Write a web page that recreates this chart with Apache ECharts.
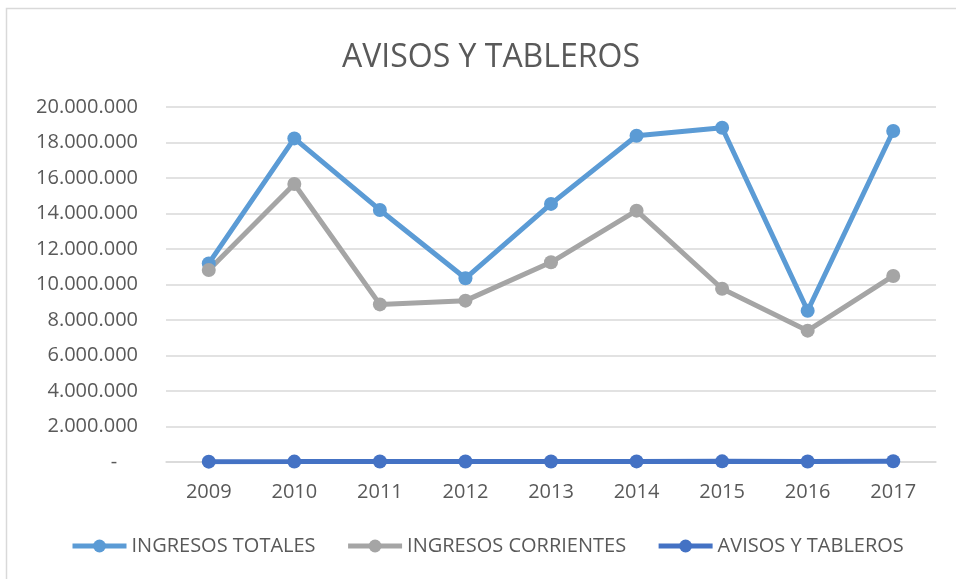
<!DOCTYPE html>
<html>
<head>
<meta charset="utf-8">
<script src="https://cdn.jsdelivr.net/npm/echarts@6/dist/echarts.min.js"></script>
<style>
  html, body { margin: 0; padding: 0; background: #fff; }
  #main { width: 956px; height: 579px; }
</style>
</head>
<body>
<div id="main"></div>
<script>
// datos
var years = ['2009', '2010', '2011', '2012', '2013', '2014', '2015', '2016', '2017'];
var ingresosTotales = [11190000, 18230000, 14200000, 10350000, 14540000, 18380000, 18830000, 8520000, 18650000];
var ingresosCorrientes = [10820000, 15660000, 8880000, 9090000, 11250000, 14160000, 9760000, 7400000, 10480000];
var avisosTableros = [20000, 22000, 25000, 24000, 30000, 35000, 38000, 30000, 40000];
var yTicks = [0, 2000000, 4000000, 6000000, 8000000, 10000000, 12000000, 14000000, 16000000, 18000000, 20000000];

var textColor = '#595959';
var font = 'Open Sans';

function fmt(v) {
  if (v === 0) return '-    ';
  return String(v).replace(/\B(?=(\d{3})+(?!\d))/g, '.');
}

var myChart = echarts.init(document.getElementById('main'));

// serie de línea con marcadores, estilo Excel
function lineSerie(name, data, color) {
  return {
    name: name,
    type: 'line',
    data: data,
    symbol: 'circle',
    symbolSize: 14,
    lineStyle: { width: 5, color: color },
    itemStyle: { color: color },
    emphasis: { disabled: true }
  };
}

var option = {
  animation: false,
  backgroundColor: '#fff',
  textStyle: { fontFamily: font },
  graphic: [{
    type: 'rect',
    shape: { x: 6.5, y: 8.5, width: 1000, height: 1000 },
    style: { fill: 'none', stroke: '#d9d9d9', lineWidth: 1.5 },
    silent: true
  }],
  title: {
    text: 'AVISOS Y TABLEROS',
    left: 337,
    top: 37,
    textStyle: { fontFamily: font, fontSize: 32, fontWeight: 'normal', color: textColor }
  },
  legend: {
    bottom: 18,
    left: 65,
    itemWidth: 54,
    itemHeight: 16,
    itemGap: 30,
    lineStyle: { width: 5 },
    textStyle: { fontFamily: font, fontSize: 20, color: textColor },
    data: ['INGRESOS TOTALES', 'INGRESOS CORRIENTES', 'AVISOS Y TABLEROS']
  },
  grid: {
    left: 166,
    right: 20,
    top: 107,
    bottom: 117
  },
  xAxis: {
    type: 'category',
    data: years,
    boundaryGap: true,
    axisLine: { lineStyle: { color: '#d9d9d9', width: 1.5 } },
    axisTick: { show: false },
    axisLabel: { color: textColor, fontSize: 20, margin: 20, fontFamily: font }
  },
  yAxis: {
    type: 'value',
    min: yTicks[0],
    max: yTicks[yTicks.length - 1],
    interval: 2000000,
    axisLine: { show: false },
    axisTick: { show: false },
    splitLine: { lineStyle: { color: '#d9d9d9', width: 1.5 } },
    axisLabel: { color: textColor, fontSize: 20, margin: 28, fontFamily: font, formatter: fmt }
  },
  series: [
    lineSerie('INGRESOS TOTALES', ingresosTotales, '#5B9BD5'),
    lineSerie('INGRESOS CORRIENTES', ingresosCorrientes, '#A5A5A5'),
    lineSerie('AVISOS Y TABLEROS', avisosTableros, '#4472C4')
  ]
};

myChart.setOption(option);
</script>
</body>
</html>
